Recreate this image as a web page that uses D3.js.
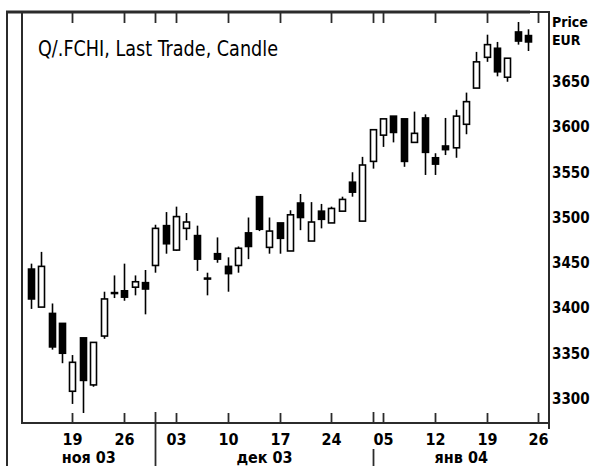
<!DOCTYPE html>
<html>
<head>
<meta charset="utf-8">
<script src="https://cdn.jsdelivr.net/npm/d3@7"></script>
<style>
body { margin: 0; background: #fff; }
text { font-family: "DejaVu Sans Condensed", "DejaVu Sans", sans-serif; fill: #000; }
</style>
</head>
<body>
<script>
// trading days shown on the chart
var dates = ["2003-11-13","2003-11-14","2003-11-17","2003-11-18","2003-11-19","2003-11-20","2003-11-21",
  "2003-11-24","2003-11-25","2003-11-26","2003-11-27","2003-11-28","2003-12-01","2003-12-02","2003-12-03",
  "2003-12-04","2003-12-05","2003-12-08","2003-12-09","2003-12-10","2003-12-11","2003-12-12","2003-12-15",
  "2003-12-16","2003-12-17","2003-12-18","2003-12-19","2003-12-22","2003-12-23","2003-12-24","2003-12-29",
  "2003-12-30","2003-12-31","2004-01-02","2004-01-05","2004-01-06","2004-01-07","2004-01-08","2004-01-09",
  "2004-01-12","2004-01-13","2004-01-14","2004-01-15","2004-01-16","2004-01-19","2004-01-20","2004-01-21",
  "2004-01-22","2004-01-23"];
var opens  = [3443,3401,3394,3383,3308,3367,3315,3369,3416,3419,3423,3428,3447,3491,3464,3488,3480,3433,3460,3446,
  3447,3483,3523,3467,3494,3463,3516,3474,3507,3494,3507,3539,3496,3562,3591,3612,3609,3583,3610,3566,
  3579,3577,3603,3643,3677,3687,3655,3705,3701];
var highs  = [3449,3462,3405,3383,3348,3367,3362,3418,3436,3449,3436,3442,3492,3506,3512,3505,3491,3439,3478,3456,
  3468,3500,3523,3500,3494,3508,3526,3517,3515,3512,3523,3550,3567,3597,3609,3612,3609,3617,3614,3571,
  3610,3619,3638,3683,3702,3694,3676,3716,3708];
var lows   = [3399,3401,3354,3339,3294,3284,3313,3366,3411,3408,3414,3393,3439,3460,3463,3475,3441,3414,3450,3418,
  3439,3454,3485,3460,3460,3463,3486,3474,3488,3494,3507,3523,3496,3554,3578,3583,3556,3583,3547,3547,
  3569,3566,3592,3643,3672,3656,3650,3691,3684];
var closes = [3410,3446,3357,3350,3340,3320,3362,3410,3417,3412,3429,3421,3488,3471,3501,3495,3454,3432,3454,3438,
  3466,3468,3487,3485,3477,3503,3500,3495,3498,3510,3520,3528,3558,3597,3609,3594,3562,3593,3572,3559,
  3575,3612,3628,3672,3691,3661,3676,3695,3694];

var tickDates = ["2003-11-19","2003-11-26","2003-12-03","2003-12-10","2003-12-17","2003-12-24",
  "2004-01-05","2004-01-12","2004-01-19","2004-01-26"];
var tickLabels = ["19","26","03","10","17","24","05","12","19","26"];
var monthStarts = ["2003-12-01","2004-01-02"];
var monthLabels = ["ноя 03","дек 03","янв 04"];
var priceTicks = [3300,3350,3400,3450,3500,3550,3600,3650];

var W = 611, H = 466;
var pL = 22, pR = 549, pT = 12, pB = 423;
var lineCol = "#2b2b2b";

// one slot per trading day, plus the empty Monday at the end
var slots = dates.concat(["2004-01-26"]);
var x = d3.scaleLinear().domain([-0.87, slots.length - 0.08]).range([pL, 548]);
var y = d3.scaleLinear().domain([3300, 3700]).range([398.5, 36.5]);
function xi(d) { return Math.round(x(slots.indexOf(d))) + 0.5; }

var svg = d3.select("body").append("svg").attr("width", W).attr("height", H);

function seg(x1, y1, x2, y2, w) {
  svg.append("line").attr("x1", x1).attr("y1", y1).attr("x2", x2).attr("y2", y2)
    .attr("stroke", lineCol).attr("stroke-width", w || 2);
}

// frame
seg(7, pT, 7, H);
seg(6, pT, 530, pT, 3);
seg(530, pT, pR + 1, pT);
seg(pL, pT, pL, pB + 1);
seg(pR, pT, pR, pB + 6);
seg(pL - 1, pB, pR + 1, pB);

// inward ticks, top and bottom
var topTicks = tickDates.concat(monthStarts);
svg.append("g").selectAll("line").data(topTicks).enter().append("line")
  .attr("x1", xi).attr("x2", xi).attr("y1", pT).attr("y2", pT + 11)
  .attr("stroke", lineCol).attr("stroke-width", 1.8);
svg.append("g").selectAll("line").data(tickDates).enter().append("line")
  .attr("x1", xi).attr("x2", xi).attr("y1", pB - 10).attr("y2", pB)
  .attr("stroke", lineCol).attr("stroke-width", 1.8);

// month separators
var sepX = monthStarts.map(xi);
seg(sepX[0], pB - 11, sepX[0], H, 1.8);
seg(sepX[1], pB - 11, sepX[1], pB, 1.8);
seg(sepX[1], 449, sepX[1], H, 1.8);

// candles
var candles = dates.map(function(d, i) {
  return { date: d, o: opens[i], h: highs[i], l: lows[i], c: closes[i] };
});
var cg = svg.append("g").selectAll("g").data(candles).enter().append("g");
cg.append("line")
  .attr("x1", function(d) { return xi(d.date); })
  .attr("x2", function(d) { return xi(d.date); })
  .attr("y1", function(d) { return y(d.h); })
  .attr("y2", function(d) { return y(d.l); })
  .attr("stroke", "#000").attr("stroke-width", 1.6);
cg.append("rect")
  .attr("x", function(d) { return xi(d.date) - 3; })
  .attr("width", 6)
  .attr("y", function(d) { return y(Math.max(d.o, d.c)); })
  .attr("height", function(d) { return Math.max(0.5, Math.abs(y(d.o) - y(d.c))); })
  .attr("fill", function(d) { return d.c >= d.o ? "#fff" : "#000"; })
  .attr("stroke", "#000").attr("stroke-width", 1.6);

// day labels
svg.append("g").selectAll("text").data(tickDates).enter().append("text")
  .attr("x", xi)
  .attr("y", 445)
  .attr("text-anchor", "middle")
  .attr("font-size", 16).attr("font-weight", "bold")
  .text(function(d, i) { return tickLabels[i]; });

// month labels, centred in each month's span
var bounds = [pL, sepX[0], sepX[1], pR];
svg.append("g").selectAll("text").data(monthLabels).enter().append("text")
  .attr("x", function(d, i) { return (bounds[i] + bounds[i + 1]) / 2; })
  .attr("y", 463)
  .attr("text-anchor", "middle")
  .attr("font-size", 16).attr("font-weight", "bold")
  .text(function(d) { return d; });

// price axis on the right
var yAxis = d3.axisRight(y).tickValues(priceTicks).tickSize(0).tickPadding(3).tickFormat(d3.format("d"));
svg.append("g").attr("transform", "translate(" + pR + ",0)").call(yAxis)
  .call(function(g) {
    g.select(".domain").remove();
    g.selectAll("text").attr("font-size", 15).attr("font-weight", "bold")
      .attr("font-family", "\"DejaVu Sans Condensed\", sans-serif").attr("fill", "#000");
  });
svg.append("text").attr("x", pR + 3).attr("y", 27).attr("font-size", 14).attr("font-weight", "bold").text("Price");
svg.append("text").attr("x", pR + 3).attr("y", 45).attr("font-size", 14).attr("font-weight", "bold").text("EUR");

// title
svg.append("text").attr("x", 38).attr("y", 56).attr("font-size", 22)
  .attr("textLength", 240).attr("lengthAdjust", "spacingAndGlyphs")
  .text("Q/.FCHI, Last Trade, Candle");
</script>
</body>
</html>
